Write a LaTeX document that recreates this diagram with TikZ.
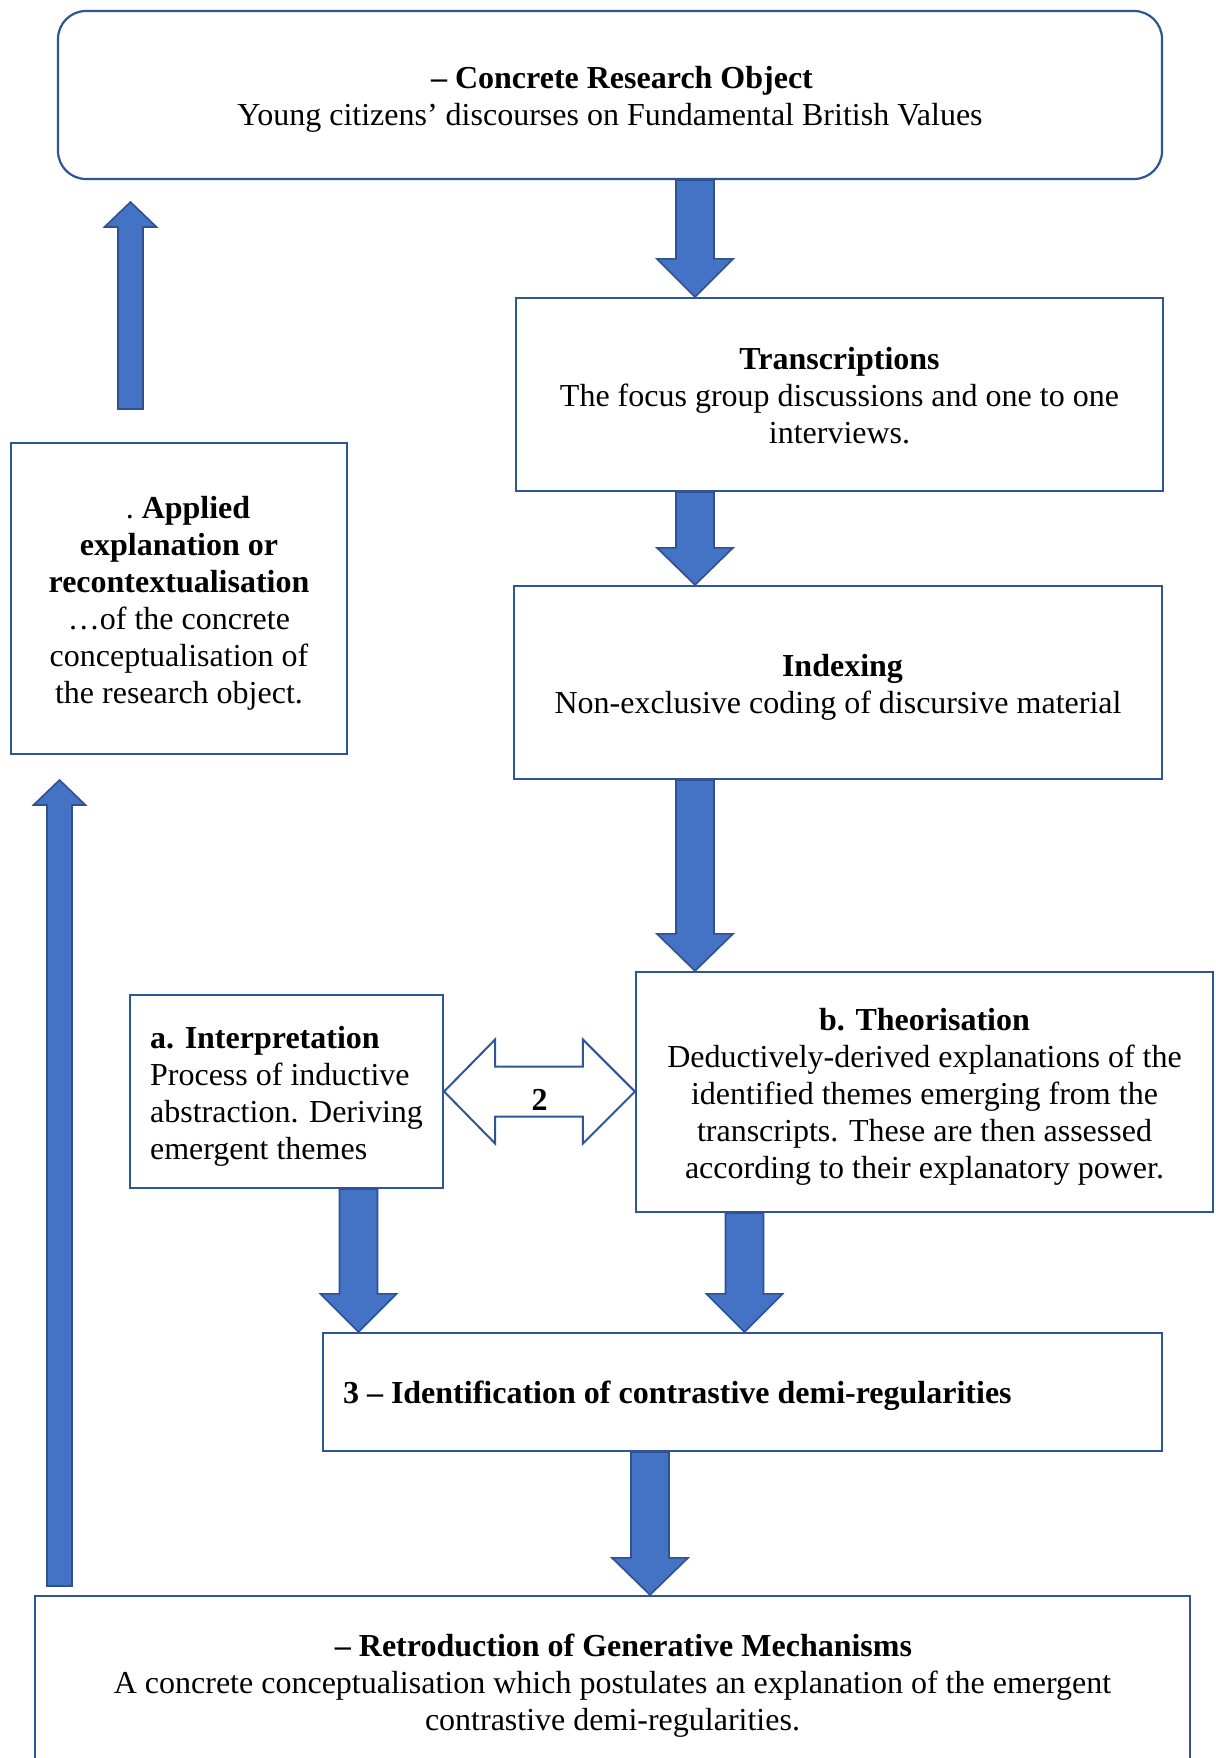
\documentclass[tikz,border=0pt]{standalone}
\usepackage{fontspec}
\setmainfont{Liberation Serif}
\usetikzlibrary{calc}
\definecolor{boxline}{HTML}{2F5597}
\definecolor{arrfill}{HTML}{4472C4}
\definecolor{arrline}{HTML}{2F528F}
\newcommand{\tst}{\rule{0pt}{31pt}}
\newcommand{\bst}{\rule[-7pt]{0pt}{0pt}}
\tikzset{
  box/.style={draw=boxline, line width=2.2pt, fill=white, align=center, inner sep=0pt,
              font=\fontsize{32}{37}\selectfont},
  blockarrow/.style={fill=arrfill, draw=arrline, line width=1.6pt, line join=miter},
  dblarrow/.style={fill=white, draw=boxline, line width=2pt, line join=miter},
  lbl/.style={font=\bfseries\fontsize{32}{37}\selectfont, inner sep=0pt},
}
% down block arrow: #1 x centre, #2 from anchor, #3 to anchor, #4 head length
\newcommand{\downblock}[4]{%
  \filldraw[blockarrow] let \p1=(#2), \p2=(#3) in
    ({#1pt-19pt},\y1) -- ({#1pt+19pt},\y1) -- ({#1pt+19pt},{\y2+#4pt}) --
    ({#1pt+38pt},{\y2+#4pt}) -- ({#1pt},\y2) -- ({#1pt-38pt},{\y2+#4pt}) --
    ({#1pt-19pt},{\y2+#4pt}) -- cycle;}
% up block arrow: #1 start coordinate, #2 tip coordinate
\newcommand{\upblock}[2]{%
  \filldraw[blockarrow] let \p1=(#1), \p2=(#2) in
    ({\x1-12.5pt},\y1) -- ({\x1+12.5pt},\y1) -- ({\x1+12.5pt},{\y2-25pt}) --
    ({\x1+26pt},{\y2-25pt}) -- (\x1,\y2) -- ({\x1-26pt},{\y2-25pt}) --
    ({\x1-12.5pt},{\y2-25pt}) -- cycle;}
\begin{document}
\begin{tikzpicture}[x=1pt,y=-1pt]
\clip (0,0) rectangle (1215,1758);
\fill[white] (0,0) rectangle (1215,1758);

\node[box, rounded corners=28pt, minimum width=1104pt, minimum height=168pt] (top) at (610,95)
  {\tst\hspace*{24pt}\textbf{– Concrete Research Object}\\Young citizens’ discourses on Fundamental British Values\bst};

\node[box, minimum width=647pt, minimum height=193pt] (trans) at (839.5,394.5)
  {\tst\textbf{Transcriptions}\\The focus group discussions and one to one\\interviews.\bst};

\node[box, minimum width=648pt, minimum height=193pt] (index) at (838,682.5)
  {\tst\hspace*{9pt}\textbf{Indexing}\\Non-exclusive coding of discursive material\bst};

\node[box, minimum width=336pt, minimum height=311pt] (applied) at (179,598.5)
  {\tst\hspace*{18pt}.\ \textbf{Applied}\\\textbf{explanation or}\\\textbf{recontextualisation}\\…of the concrete\\conceptualisation of\\the research object.\bst};

\node[box, align=left, minimum width=313pt, minimum height=193pt] (interp) at (286.5,1091.5)
  {\tst\textbf{a. Interpretation}\\Process of inductive\\abstraction. Deriving\\emergent themes\bst};

\node[box, minimum width=577pt, minimum height=240pt] (theor) at (924.5,1092)
  {\tst\textbf{b. Theorisation}\\Deductively-derived explanations of the\\identified themes emerging from the\\transcripts. These are then assessed\\according to their explanatory power.\bst};

\node[box, minimum width=839pt, minimum height=118pt] (three) at (742.5,1392)
  {\makebox[799pt][l]{\tst\textbf{3 – Identification of contrastive demi-regularities}\bst}};

\node[box, minimum width=1155pt, minimum height=170pt] (retro) at (612.5,1681)
  {\tst\hspace*{22pt}\textbf{– Retroduction of Generative Mechanisms}\\A concrete conceptualisation which postulates an explanation of the emergent\\contrastive demi-regularities.\bst};

% down arrows
\downblock{695}{top.south}{trans.north}{38}
\downblock{695}{trans.south}{index.north}{37}
\downblock{695}{index.south}{theor.north}{37}
\downblock{358.5}{interp.south}{three.north}{38}
\downblock{744.5}{theor.south}{three.north}{38}
\downblock{650}{three.south}{retro.north}{37}

% up arrows
\coordinate (smallbase) at (130.5,409);
\coordinate (smalltip) at (130.5,202);
\upblock{smallbase}{smalltip}
\coordinate (bigbase) at (59.5,1586);
\coordinate (bigtip) at (59.5,780);
\upblock{bigbase}{bigtip}

% double arrow
\filldraw[dblarrow] let \p1=(interp.east), \p2=(theor.west) in
  (\x1,\y1) -- ({\x1+51pt},{\y1+52pt}) -- ({\x1+51pt},{\y1+25pt}) -- ({\x2-52pt},{\y1+25pt}) --
  ({\x2-52pt},{\y1+52pt}) -- (\x2,\y1) -- ({\x2-52pt},{\y1-52pt}) -- ({\x2-52pt},{\y1-25pt}) --
  ({\x1+51pt},{\y1-25pt}) -- ({\x1+51pt},{\y1-52pt}) -- cycle;
\node[lbl] (two) at ($(interp.east)!0.5!(theor.west)+(0,8)$) {2};
\end{tikzpicture}
\end{document}
